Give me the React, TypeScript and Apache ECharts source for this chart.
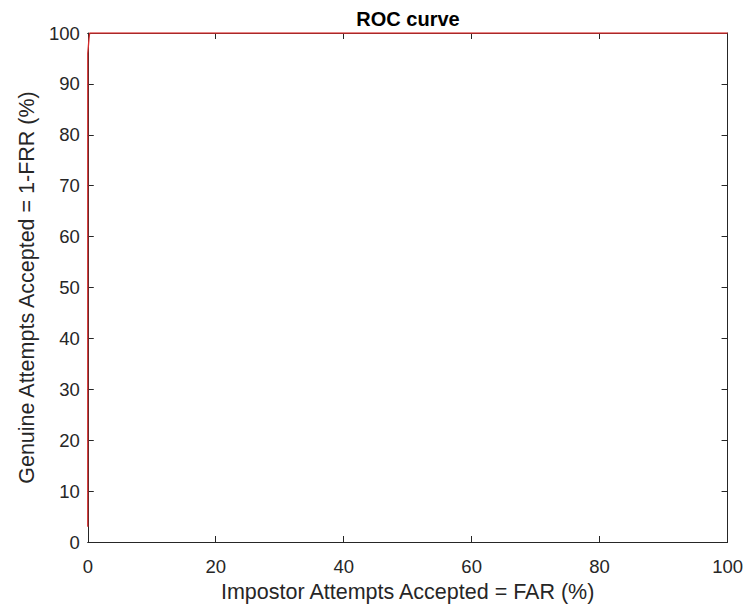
import React, { useEffect, useRef } from "react";
import * as echarts from "echarts";

const titleText = "ROC curve";
const xName = "Impostor Attempts Accepted = FAR (%)";
const yName = "Genuine Attempts Accepted = 1-FRR (%)";
const farValues = [0, 0, 0.2, 0.3, 100];
const garValues = [3, 96, 99, 100, 100];

export default function App() {
  const ref = useRef<HTMLDivElement>(null);
  useEffect(() => {
    if (!ref.current) return;
    const chart = echarts.init(ref.current, undefined, { renderer: "svg" });
    const font = "Liberation Sans, Arial, sans-serif";
    const axisCommon = {
      type: "value" as const,
      min: 0,
      max: 100,
      interval: 10,
      axisLine: { show: true, onZero: false, lineStyle: { color: "#262626", width: 1 } },
      axisTick: { show: true, inside: true, length: 6, lineStyle: { color: "#262626" } },
      splitLine: { show: false },
    };
    chart.setOption({
      animation: false,
      backgroundColor: "#ffffff",
      title: {
        text: titleText,
        left: 400,
        top: 1,
        padding: 0,
        textAlign: "center",
        textStyle: { fontFamily: font, fontSize: 20, lineHeight: 20, fontWeight: "bold", color: "#000" },
      },
      grid: { left: 74, right: 12, top: 25, bottom: 62, containLabel: false },
      xAxis: [
        {
          ...axisCommon,
          interval: 20,
          position: "bottom",
          name: xName,
          nameLocation: "middle",
          nameGap: 39,
          nameTextStyle: { fontFamily: font, fontSize: 21.5, color: "#262626" },
          axisLabel: { fontFamily: font, fontSize: 18.5, color: "#262626", margin: 15 },
        },
        {
          ...axisCommon,
          interval: 20,
          position: "top",
          axisLabel: { show: false },
        },
      ],
      yAxis: [
        {
          ...axisCommon,
          position: "left",
          name: yName,
          nameLocation: "middle",
          nameGap: 47,
          nameTextStyle: { fontFamily: font, fontSize: 21.5, color: "#262626" },
          axisLabel: { fontFamily: font, fontSize: 18.5, color: "#262626", margin: 8 },
        },
        {
          ...axisCommon,
          position: "right",
          axisLabel: { show: false },
        },
      ],
      series: [
        {
          type: "line",
          xAxisIndex: 0,
          yAxisIndex: 0,
          data: farValues.map((x, i) => [x, garValues[i]]),
          showSymbol: false,
          symbol: "none",
          lineStyle: { color: "#d42a2a", width: 1.3 },
          z: 10,
        },
      ],
    });
    return () => chart.dispose();
  }, []);
  return <div ref={ref} style={{ width: 738, height: 600 }} />;
}
